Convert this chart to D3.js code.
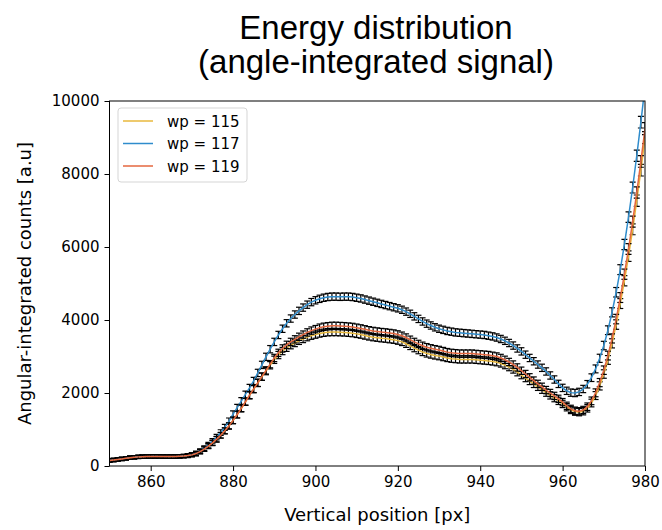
<!DOCTYPE html>
<html>
<head>
<meta charset="utf-8">
<script src="https://cdn.jsdelivr.net/npm/d3@7"></script>
<style>
  body { margin: 0; background: #fff; }
  svg text { fill: #000; }
</style>
</head>
<body>
<div id="main"></div>
<script>
// data
const positions = d3.range(850, 981); // vertical position [px], one point per pixel

const wp115 = [
  145, 160, 175, 190, 207, 223, 235, 245, 251, 255, 257, 258, 257, 255, 253, 253, 255, 260, 267, 280,
  300, 335, 390, 460, 540, 630, 730, 840, 960, 1095,
  1245, 1405, 1575, 1755, 1935, 2105, 2275, 2445, 2600, 2760,
  2910, 3040, 3150, 3240, 3310, 3370, 3430, 3480, 3530, 3570,
  3600, 3630, 3650, 3665, 3670, 3670, 3665, 3660, 3650, 3640,
  3620, 3600, 3575, 3550, 3530, 3515, 3500, 3490, 3475, 3460,
  3435, 3400, 3350, 3290, 3230, 3175, 3125, 3085, 3055, 3030,
  3010, 2985, 2960, 2940, 2930, 2920, 2920, 2920, 2920, 2910,
  2900, 2890, 2880, 2865, 2845, 2810, 2765, 2710, 2645, 2570,
  2490, 2410, 2330, 2250, 2170, 2090, 2010, 1935, 1860, 1785,
  1700, 1610, 1535, 1490, 1475, 1500, 1580, 1725, 1930, 2195,
  2520, 2905, 3360, 3875, 4450, 5075, 5750, 6485, 7270, 8105,
  8995
];

const wp117 = [
  155, 170, 185, 200, 215, 230, 243, 252, 258, 262, 264, 265, 264, 262, 260, 260, 262, 268, 276, 290,
  315, 355, 415, 490, 580, 680, 790, 915, 1060, 1230,
  1420, 1600, 1780, 1960, 2140, 2330, 2550, 2770, 2990, 3200,
  3400, 3590, 3760, 3910, 4040, 4150, 4250, 4340, 4420, 4490,
  4540, 4580, 4610, 4630, 4640, 4640, 4635, 4640, 4640, 4630,
  4610, 4590, 4560, 4530, 4500, 4470, 4440, 4410, 4380, 4350,
  4320, 4280, 4230, 4170, 4100, 4030, 3960, 3900, 3850, 3800,
  3760, 3730, 3700, 3680, 3660, 3650, 3640, 3630, 3620, 3610,
  3600, 3590, 3570, 3550, 3520, 3480, 3430, 3370, 3300, 3220,
  3140, 3050, 2960, 2870, 2780, 2690, 2590, 2480, 2370, 2250,
  2140, 2060, 2010, 2000, 2030, 2110, 2240, 2420, 2660, 2950,
  3300, 3720, 4210, 4760, 5380, 6070, 6820, 7630, 8500, 9420,
  10400
];

const wp119 = [
  150, 165, 180, 195, 212, 228, 240, 250, 256, 260, 262, 263, 262, 260, 258, 258, 260, 265, 272, 285,
  305, 340, 395, 465, 545, 635, 735, 845, 965, 1100,
  1250, 1410, 1580, 1760, 1940, 2110, 2280, 2450, 2620, 2790,
  2960, 3100, 3220, 3320, 3400, 3470, 3540, 3600, 3660, 3710,
  3750, 3790, 3815, 3830, 3840, 3840, 3835, 3830, 3820, 3810,
  3790, 3770, 3745, 3720, 3700, 3685, 3670, 3660, 3645, 3630,
  3605, 3570, 3520, 3460, 3400, 3345, 3295, 3255, 3225, 3200,
  3180, 3150, 3120, 3100, 3090, 3080, 3080, 3080, 3080, 3070,
  3060, 3050, 3040, 3020, 3000, 2960, 2910, 2850, 2780, 2700,
  2610, 2520, 2430, 2340, 2250, 2170, 2080, 2000, 1920, 1840,
  1750, 1650, 1565, 1515, 1500, 1535, 1625, 1785, 2005, 2285,
  2625, 3025, 3495, 4025, 4615, 5255, 5945, 6695, 7495, 8345,
  9245
];

// error bar half-heights, shared by the three runs
const errors = [
  45, 45, 45, 45, 45, 45, 45, 45, 45, 45, 45, 45, 45, 45, 45, 45, 45, 45, 45, 48,
  52, 55, 58, 62, 66, 70, 74, 78, 82, 85,
  88, 90, 92, 94, 96, 98, 100, 100, 100, 100,
  100, 100, 100, 100, 100, 100, 100, 100, 100, 100,
  100, 100, 100, 100, 100, 100, 100, 100, 100, 100,
  100, 100, 100, 100, 100, 100, 100, 100, 100, 100,
  100, 100, 100, 100, 100, 100, 100, 100, 100, 100,
  100, 100, 100, 100, 100, 100, 100, 100, 100, 100,
  100, 100, 100, 100, 100, 100, 100, 100, 100, 100,
  100, 100, 100, 100, 100, 100, 100, 100, 100, 100,
  100, 100, 100, 100, 100, 100, 102, 105, 108, 112,
  116, 120, 125, 130, 135, 140, 145, 150, 155, 160,
  165
];

const seriesNames = ['wp = 115', 'wp = 117', 'wp = 119'];
const seriesColors = ['#e8b83c', '#2f8ccc', '#e5673f'];
const xTicks = [860, 880, 900, 920, 940, 960, 980];
const yTicks = [0, 2000, 4000, 6000, 8000, 10000];
const series = [wp115, wp117, wp119];

// dimensions
const W = 662, H = 530;
const plot = { left: 109.5, right: 645, top: 101, bottom: 466 };

const svg = d3.select('#main').append('svg')
  .attr('width', W)
  .attr('height', H)
  .style('font-family', '"DejaVu Sans", sans-serif');

const x = d3.scaleLinear().domain([850, 980]).range([plot.left, plot.right]);
const y = d3.scaleLinear().domain([0, 10000]).range([plot.bottom, plot.top]);

svg.append('clipPath').attr('id', 'clip')
  .append('rect')
  .attr('x', plot.left).attr('y', plot.top)
  .attr('width', plot.right - plot.left)
  .attr('height', plot.bottom - plot.top);

const marks = svg.append('g').attr('clip-path', 'url(#clip)');

const line = d3.line()
  .x((d, i) => x(positions[i]))
  .y(d => y(d));

series.forEach((vals, s) => {
  const g = marks.append('g');
  const pts = vals.map((v, i) => ({ px: positions[i], v: v, e: errors[i] }));

  // vertical bars
  g.selectAll('line.bar').data(pts).enter().append('line')
    .attr('x1', d => x(d.px)).attr('x2', d => x(d.px))
    .attr('y1', d => y(d.v - d.e)).attr('y2', d => y(d.v + d.e))
    .attr('stroke', '#000').attr('stroke-width', 1.2);
  // caps
  ['lo', 'hi'].forEach(k => {
    g.selectAll('line.cap-' + k).data(pts).enter().append('line')
      .attr('x1', d => x(d.px) - 3).attr('x2', d => x(d.px) + 3)
      .attr('y1', d => y(k === 'lo' ? d.v - d.e : d.v + d.e))
      .attr('y2', d => y(k === 'lo' ? d.v - d.e : d.v + d.e))
      .attr('stroke', '#000').attr('stroke-width', 1.2);
  });

  g.append('path')
    .attr('d', line(vals))
    .attr('fill', 'none')
    .attr('stroke', seriesColors[s])
    .attr('stroke-width', 1.5);
});

// axes
const xAxis = svg.append('g')
  .attr('transform', `translate(0,${plot.bottom})`)
  .call(d3.axisBottom(x).tickValues(xTicks).tickSize(5).tickPadding(5).tickFormat(d3.format('d')));
const yAxis = svg.append('g')
  .attr('transform', `translate(${plot.left},0)`)
  .call(d3.axisLeft(y).tickValues(yTicks).tickSize(5).tickPadding(5).tickFormat(d3.format('d')));

[xAxis, yAxis].forEach(a => {
  a.select('.domain').remove();
  a.selectAll('.tick text').attr('font-size', 15).attr('font-family', '"DejaVu Sans", sans-serif').attr('fill', '#000');
  a.selectAll('.tick line').attr('stroke', '#000').attr('stroke-width', 1);
});

// frame
svg.append('rect')
  .attr('x', plot.left).attr('y', plot.top)
  .attr('width', plot.right - plot.left)
  .attr('height', plot.bottom - plot.top)
  .attr('fill', 'none').attr('stroke', '#000').attr('stroke-width', 1);

// legend
const legend = svg.append('g').attr('transform', 'translate(118,108)');
legend.append('rect')
  .attr('width', 129).attr('height', 74).attr('rx', 3)
  .attr('fill', '#fff').attr('fill-opacity', 0.8)
  .attr('stroke', '#d5d5d5');
seriesNames.forEach((n, i) => {
  const ly = 13 + i * 22.5;
  legend.append('line')
    .attr('x1', 5).attr('x2', 35).attr('y1', ly).attr('y2', ly)
    .attr('stroke', seriesColors[i]).attr('stroke-width', 1.5);
  legend.append('text')
    .attr('x', 49).attr('y', ly + 5.5)
    .attr('font-size', 15)
    .text(n);
});

// titles and labels
const title = svg.append('text')
  .attr('text-anchor', 'middle')
  .attr('font-family', '"Liberation Sans", Arial, sans-serif')
  .attr('font-size', 33);
title.append('tspan').attr('x', 376).attr('y', 39).text('Energy distribution');
title.append('tspan').attr('x', 376).attr('y', 73).text('(angle-integrated signal)');

svg.append('text')
  .attr('x', (plot.left + plot.right) / 2)
  .attr('y', 521)
  .attr('text-anchor', 'middle')
  .attr('font-size', 18)
  .text('Vertical position [px]');

svg.append('text')
  .attr('transform', `translate(31,${(plot.top + plot.bottom) / 2}) rotate(-90)`)
  .attr('text-anchor', 'middle')
  .attr('font-size', 18)
  .text('Angular-integrated counts [a.u]');
</script>
</body>
</html>
